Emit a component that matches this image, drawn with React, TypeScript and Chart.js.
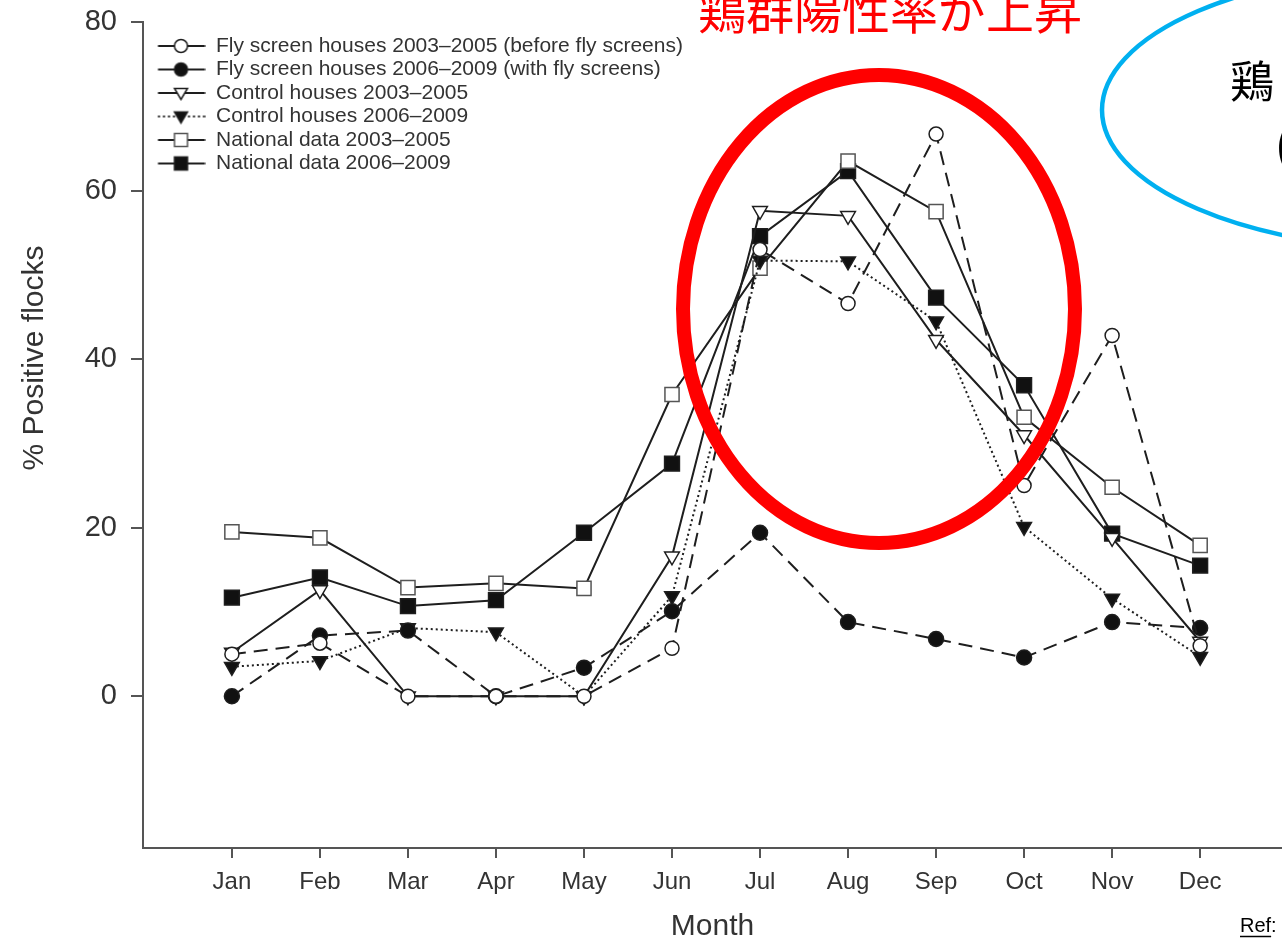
import React, { useEffect, useRef } from "react";
import { Chart, registerables } from "chart.js";

Chart.register(...registerables);

// ---- data ----
const months = ["Jan", "Feb", "Mar", "Apr", "May", "Jun", "Jul", "Aug", "Sep", "Oct", "Nov", "Dec"];
const flyBefore = [5.0, 6.3, 0, 0, 0, 5.7, 53.0, 46.6, 66.7, 25.0, 42.8, 6.0];
const flyWith = [0, 7.2, 7.8, 0, 3.4, 10.1, 19.4, 8.8, 6.8, 4.6, 8.8, 8.1];
const control0305 = [5.2, 12.6, 0, 0, 0, 16.6, 57.6, 57.0, 42.3, 31.0, 18.8, 6.5];
const control0609 = [3.5, 4.2, 8.1, 7.6, 0, 11.9, 51.7, 51.6, 44.5, 20.1, 11.6, 4.7];
const national0305 = [19.5, 18.8, 12.9, 13.4, 12.8, 35.8, 50.8, 63.5, 57.5, 33.1, 24.8, 17.9];
const national0609 = [11.7, 14.1, 10.7, 11.4, 19.4, 27.6, 54.6, 62.3, 47.3, 36.9, 19.3, 15.5];
const seriesLabels = [
  "Fly screen houses 2003\u20132005 (before fly screens)",
  "Fly screen houses 2006\u20132009 (with fly screens)",
  "Control houses 2003\u20132005",
  "Control houses 2006\u20132009",
  "National data 2003\u20132005",
  "National data 2006\u20132009",
];
const yTicks = [0, 20, 40, 60, 80];
const yTitle = "% Positive flocks";
const xTitle = "Month";
const headline = "鶏群陽性率が上昇";
const sideText = "鶏";
const sideText2 = "(";
const refText = "Ref";

const FONT = "'Liberation Sans', Arial, Helvetica, sans-serif";
const CJK = "'Noto Sans CJK JP', 'Noto Sans CJK SC', sans-serif";
const INK = "#1e1e1e";

type MarkerKind = "circle" | "rect" | "triDown";

function makeLegendImage(kind: MarkerKind, filled: boolean, dash: number[], grey: boolean) {
  const c = document.createElement("canvas");
  c.width = 60;
  c.height = 20;
  const g = c.getContext("2d")!;
  g.strokeStyle = INK;
  g.lineWidth = 2.2;
  g.setLineDash(dash);
  g.beginPath();
  g.moveTo(12.5, 10);
  g.lineTo(59.5, 10);
  g.stroke();
  g.setLineDash([]);
  g.fillStyle = filled ? "#111" : "#fff";
  g.strokeStyle = grey ? "#555" : INK;
  g.lineWidth = 1.5;
  const cx = 35.5;
  const cy = 10;
  g.beginPath();
  if (kind === "circle") {
    g.arc(cx, cy, 6.5, 0, Math.PI * 2);
  } else if (kind === "rect") {
    g.rect(cx - 6.5, cy - 6.5, 13, 13);
  } else {
    g.moveTo(cx - 6.5, cy - 4.5);
    g.lineTo(cx + 6.5, cy - 4.5);
    g.lineTo(cx, cy + 6.5);
    g.closePath();
  }
  g.fill();
  g.stroke();
  return c;
}

const annotations = {
  id: "annotations",
  afterDraw(chart: any) {
    const ctx = chart.ctx as CanvasRenderingContext2D;
    ctx.save();
    // y-axis title
    ctx.save();
    ctx.translate(35, 358);
    ctx.rotate(-Math.PI / 2);
    ctx.font = `30px ${FONT}`;
    ctx.fillStyle = "#333";
    ctx.textAlign = "center";
    ctx.textBaseline = "middle";
    ctx.fillText(yTitle, 0, 0);
    ctx.restore();

    // red ellipse
    ctx.beginPath();
    ctx.ellipse(879, 309, 196, 234, 0, 0, Math.PI * 2);
    ctx.lineWidth = 14;
    ctx.strokeStyle = "#ff0000";
    ctx.stroke();

    // red headline
    ctx.font = `48px ${CJK}`;
    ctx.fillStyle = "#ff0000";
    ctx.textAlign = "left";
    ctx.textBaseline = "alphabetic";
    ctx.fillText(headline, 698, 29);

    // blue ellipse
    ctx.beginPath();
    ctx.ellipse(1430, 110, 328, 140, 0, 0, Math.PI * 2);
    ctx.lineWidth = 4.5;
    ctx.strokeStyle = "#00b0f0";
    ctx.stroke();

    // black text inside blue ellipse
    ctx.font = `44px ${CJK}`;
    ctx.fillStyle = "#000";
    ctx.fillText(sideText, 1230, 98);
    ctx.fillText(sideText2, 1275, 162);

    // Ref:
    ctx.font = `20px ${FONT}`;
    ctx.fillStyle = "#000";
    ctx.fillText(refText + ":", 1240, 932);
    const w = ctx.measureText(refText).width;
    ctx.beginPath();
    ctx.moveTo(1240, 936.5);
    ctx.lineTo(1240 + w, 936.5);
    ctx.lineWidth = 1.5;
    ctx.strokeStyle = "#000";
    ctx.stroke();
    ctx.restore();
  },
};

export default function App() {
  const ref = useRef<HTMLCanvasElement | null>(null);

  useEffect(() => {
    if (!ref.current) return;
    const toPts = (arr: number[]) => arr.map((v, i) => ({ x: i, y: v }));
    const legendImages = [
      makeLegendImage("circle", false, [], false),
      makeLegendImage("circle", true, [], false),
      makeLegendImage("triDown", false, [], false),
      makeLegendImage("triDown", true, [2, 3], false),
      makeLegendImage("rect", false, [], true),
      makeLegendImage("rect", true, [], false),
    ];
    const base = {
      borderColor: INK,
      borderWidth: 2,
      tension: 0,
      pointBorderColor: INK,
      pointBorderWidth: 1.5,
    };
    const chart = new Chart(ref.current, {
      type: "line",
      data: {
        datasets: [
          { ...base, label: seriesLabels[0], data: toPts(flyBefore), borderDash: [14, 8], pointStyle: "circle", pointRadius: 7, pointBackgroundColor: "#fff" },
          { ...base, label: seriesLabels[1], data: toPts(flyWith), borderDash: [14, 8], pointStyle: "circle", pointRadius: 7.5, pointBackgroundColor: "#111" },
          { ...base, label: seriesLabels[2], data: toPts(control0305), pointStyle: "triangle", pointRotation: 180, pointRadius: 8.5, pointBackgroundColor: "#fff" },
          { ...base, label: seriesLabels[3], data: toPts(control0609), borderDash: [2, 3], pointStyle: "triangle", pointRotation: 180, pointRadius: 8.5, pointBackgroundColor: "#111" },
          { ...base, label: seriesLabels[4], data: toPts(national0305), pointStyle: "rect", pointRadius: 10, pointBackgroundColor: "#fff", pointBorderColor: "#555" },
          { ...base, label: seriesLabels[5], data: toPts(national0609), pointStyle: "rect", pointRadius: 10.5, pointBackgroundColor: "#111" },
        ] as any,
      },
      options: {
        animation: false,
        responsive: false,
        maintainAspectRatio: false,
        layout: { autoPadding: false, padding: { top: 22, right: 0, bottom: 0, left: 0 } },
        plugins: {
          tooltip: { enabled: false },
          legend: {
            position: "chartArea",
            align: "start",
            title: { display: true, text: "", font: { size: 10, lineHeight: 1 }, padding: { top: 23, bottom: 0 } },
            labels: {
              usePointStyle: true,
              pointStyleWidth: 60,
              padding: 2.5,
              color: "#333",
              font: { family: FONT, size: 21 },
              generateLabels: (ch: any) =>
                ch.data.datasets.map((ds: any, i: number) => ({
                  text: ds.label,
                  pointStyle: legendImages[i],
                  datasetIndex: i,
                  hidden: false,
                  fillStyle: "transparent",
                  strokeStyle: "transparent",
                  lineWidth: 0,
                  fontColor: "#333",
                  rotation: 0,
                })),
            },
          } as any,
        },
        scales: {
          x: {
            type: "linear",
            position: "bottom",
            min: -1.01,
            max: 11.93,
            afterBuildTicks: (s: any) => {
              s.ticks = months.map((_, i) => ({ value: i }));
            },
            afterFit: (s: any) => {
              s.height = 95;
              s.paddingLeft = 0;
              s.paddingRight = 0;
            },
            ticks: {
              autoSkip: false,
              maxRotation: 0,
              padding: 10,
              color: "#333",
              font: { family: FONT, size: 24 },
              callback: (v: any) => months[Math.round(Number(v))] ?? "",
            },
            grid: { drawOnChartArea: false, drawTicks: true, tickLength: 10, color: "#555", lineWidth: 2 },
            border: { display: true, color: "#555", width: 2 },
            title: {
              display: true,
              text: xTitle,
              color: "#333",
              font: { family: FONT, size: 30, lineHeight: 1 },
              padding: { top: 0, bottom: 1 },
            },
          },
          y: {
            type: "linear",
            min: -18,
            max: 80,
            afterBuildTicks: (s: any) => {
              s.ticks = yTicks.map((v) => ({ value: v }));
            },
            afterFit: (s: any) => {
              s.width = 143;
              s.paddingTop = 0;
              s.paddingBottom = 0;
            },
            ticks: {
              padding: 14,
              color: "#333",
              font: { family: FONT, size: 29 },
            },
            grid: { drawOnChartArea: false, drawTicks: true, tickLength: 12, color: "#555", lineWidth: 2 },
            border: { display: true, color: "#555", width: 2 },
          },
        },
      } as any,
      plugins: [annotations],
    });
    return () => chart.destroy();
  }, []);

  return (
    <div style={{ position: "fixed", left: 0, top: 0, width: 1282, height: 943, background: "#fff" }}>
      <canvas ref={ref} width={1282} height={943} style={{ width: 1282, height: 943, display: "block" }} />
    </div>
  );
}
